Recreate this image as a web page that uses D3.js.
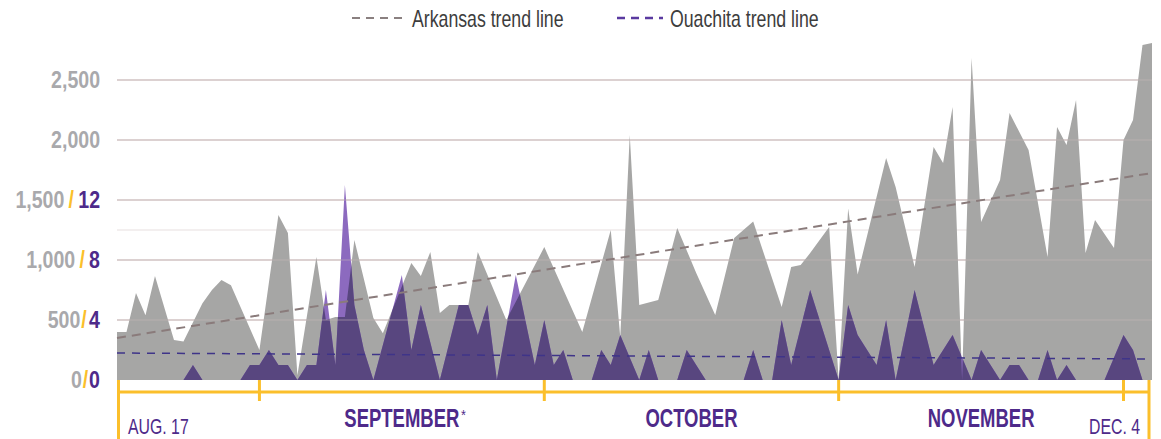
<!DOCTYPE html>
<html>
<head>
<meta charset="utf-8">
<script src="https://cdn.jsdelivr.net/npm/d3@7"></script>
<style>
  body { margin: 0; background: #fff; }
  text { font-family: "Liberation Sans", Arial, sans-serif; }
</style>
</head>
<body>
<div class="chart"></div>
<script>
// Arkansas daily new cases (gray area)
var arkDays = ["08-17","08-18","08-19","08-20","08-21","08-23","08-24","08-26","08-27","08-28","08-29",
  "09-01","09-03","09-04","09-05","09-07","09-08","09-09","09-10","09-11","09-13","09-14","09-17","09-18",
  "09-19","09-20","09-21","09-23","09-24","09-27","10-01","10-05","10-08","10-09","10-10","10-11","10-13",
  "10-15","10-17","10-19","10-21","10-23","10-26","10-27","10-28","10-29","10-31","11-01","11-02","11-03",
  "11-06","11-07","11-09","11-11","11-12","11-13","11-14","11-15","11-16","11-18","11-19","11-21","11-23",
  "11-24","11-25","11-26","11-27","11-28","11-30","12-01","12-02","12-03","12-04"];
var arkCases = [400,400,725,540,867,333,320,640,750,833,790,
  250,1375,1225,40,1025,500,525,525,1167,517,390,975,867,
  1067,558,625,625,1067,500,1108,400,1250,358,2042,625,667,
  1267,892,542,1183,1320,608,942,958,1058,1275,0,1430,880,
  1850,1608,942,1942,1808,2275,0,2683,1317,1667,2225,1917,1025,
  2108,1958,2333,1058,1333,1100,2000,2167,2792,2808];

// Ouachita daily new cases (purple area)
var ouaDays = ["08-17","08-24","08-25","08-26","08-30","08-31","09-01","09-02","09-03","09-04","09-05",
  "09-06","09-07","09-08","09-09","09-10","09-11","09-12","09-13","09-16","09-17","09-18","09-20","09-22",
  "09-23","09-24","09-25","09-26","09-28","09-30","10-01","10-02","10-03","10-04","10-06","10-07","10-08",
  "10-09","10-11","10-12","10-13","10-15","10-16","10-18","10-22","10-23","10-24","10-25","10-26","10-27",
  "10-29","11-01","11-02","11-03","11-05","11-06","11-07","11-09","11-11","11-13","11-15","11-16","11-18",
  "11-19","11-20","11-21","11-22","11-23","11-24","11-25","11-26","11-29","12-01","12-02","12-03","12-04"];
var ouaCases = [0,0,1,0,0,1,1,2,1,1,0,
  1,1,6,1,13,5,2,0,7,2,5,0,5,
  5,3,5,0,7,1,4,1,2,0,0,2,1,
  3,0,2,0,0,2,0,0,2,0,0,4,1,
  6,0,5,3,1,4,0,6,1,3,0,2,0,
  1,1,0,0,2,0,1,0,0,3,2,0,0];

// trend lines, start and end values
var trendDays = ["08-17", "12-04"];
var arkTrend = [350, 1725];
var ouaTrend = [1.8, 1.4];

// axis ticks
var leftTicks = [0, 500, 1000, 1500, 2000, 2500];
var leftLabels = ["0", "500", "1,000", "1,500", "2,000", "2,500"];
var rightLabels = ["0", "4", "8", "12", "", ""];
var monthStarts = ["09-01", "10-01", "11-01", "12-01"];
var monthNames = ["SEPTEMBER", "OCTOBER", "NOVEMBER"];

var parseDay = d3.timeParse("%Y-%m-%d");
function day(s) { return parseDay("2020-" + s); }

// squeeze text sideways, the fonts here have no condensed cut
function squeeze(px, py, sx) {
  return "translate(" + px + "," + py + ") scale(" + sx + ",1)";
}

var svgWidth = 1161;
var svgHeight = 439;

var svg = d3.select(".chart")
  .append("svg")
  .attr("width", svgWidth)
  .attr("height", svgHeight);

// scales
var x = d3.scaleTime()
  .domain([day("08-17"), day("12-04")])
  .range([117, 1152]);

var y = d3.scaleLinear()
  .domain([0, 2800])
  .range([380, 44]);

// 1 Ouachita case = 125 on the Arkansas scale
var y2 = d3.scaleLinear()
  .domain([0, 2800 / 125])
  .range([380, 44]);

var arkData = arkDays.map(function(d, i) { return { date: day(d), value: arkCases[i] }; });
var ouaData = ouaDays.map(function(d, i) { return { date: day(d), value: ouaCases[i] }; });

var grayColor = "#a6a6a5";
var purpleDark = "#58467f";
var purpleLight = "#8c6abf";
var labelPurple = "#4e2a8a";
var yellow = "#fbbf2b";

// gridlines
var gridGroup = svg.append("g");
gridGroup.selectAll("line.grid")
  .data(leftTicks.slice(1))
  .enter()
  .append("line")
  .attr("x1", 117)
  .attr("x2", 1152)
  .attr("y1", d => y(d))
  .attr("y2", d => y(d))
  .attr("stroke", "#e3d9d9")
  .attr("stroke-width", 2);
gridGroup.append("line")
  .attr("x1", 117).attr("x2", 1152)
  .attr("y1", y(1250)).attr("y2", y(1250))
  .attr("stroke", "#efeaea")
  .attr("stroke-width", 1.5);

// areas
var arkArea = d3.area()
  .x(d => x(d.date))
  .y0(y(0))
  .y1(d => y(d.value));

var ouaArea = d3.area()
  .x(d => x(d.date))
  .y0(y2(0))
  .y1(d => y2(d.value));

svg.append("defs")
  .append("clipPath")
  .attr("id", "grayClip")
  .append("path")
  .attr("d", arkArea(arkData));

svg.append("path")
  .attr("d", arkArea(arkData))
  .attr("fill", grayColor);

// purple above the gray shows lighter, purple over the gray shows dark
svg.append("path")
  .attr("d", ouaArea(ouaData))
  .attr("fill", purpleLight);

svg.append("path")
  .attr("d", ouaArea(ouaData))
  .attr("fill", purpleDark)
  .attr("clip-path", "url(#grayClip)");

// faint gridlines over the areas
svg.selectAll("line.over")
  .data(leftTicks.slice(1))
  .enter()
  .append("line")
  .attr("x1", 117)
  .attr("x2", 1152)
  .attr("y1", d => y(d))
  .attr("y2", d => y(d))
  .attr("stroke", "#c9baba")
  .attr("stroke-opacity", 0.35)
  .attr("stroke-width", 1.5);

// trend lines
svg.append("line")
  .attr("x1", x(day(trendDays[0])))
  .attr("x2", x(day(trendDays[1])))
  .attr("y1", y(arkTrend[0]))
  .attr("y2", y(arkTrend[1]))
  .attr("stroke", "#8a7b7b")
  .attr("stroke-width", 2)
  .attr("stroke-dasharray", "9,6");

svg.append("line")
  .attr("x1", x(day(trendDays[0])))
  .attr("x2", x(day(trendDays[1])))
  .attr("y1", y2(ouaTrend[0]))
  .attr("y2", y2(ouaTrend[1]))
  .attr("stroke", "#3f3489")
  .attr("stroke-width", 1.5)
  .attr("stroke-dasharray", "8,7");

// y labels, right edge at x=100
var yLabels = svg.append("g");
leftTicks.forEach(function(t, i) {
  var txt = yLabels.append("text")
    .attr("transform", squeeze(100, y(t), 0.85))
    .attr("dy", "0.36em")
    .attr("text-anchor", "end")
    .attr("font-size", 23)
    .attr("font-weight", "bold");
  txt.append("tspan").attr("fill", "#a9a9ac").text(leftLabels[i]);
  if (rightLabels[i] !== "") {
    var wide = t >= 1000;
    txt.append("tspan").attr("fill", yellow).attr("dx", wide ? 5 : 1).text("/");
    txt.append("tspan").attr("fill", labelPurple).attr("dx", wide ? 5 : (t == 0 ? 1 : 3)).text(rightLabels[i]);
  }
});

// yellow time axis
var axisGroup = svg.append("g")
  .attr("stroke", yellow)
  .attr("stroke-width", 3);

axisGroup.append("line")
  .attr("x1", x.range()[0])
  .attr("x2", x.range()[1] - 3)
  .attr("y1", 392)
  .attr("y2", 392);

axisGroup.selectAll("line.tick")
  .data(monthStarts)
  .enter()
  .append("line")
  .attr("x1", d => x(day(d)))
  .attr("x2", d => x(day(d)))
  .attr("y1", 380)
  .attr("y2", 401);

axisGroup.selectAll("line.end")
  .data(["08-17", "12-04"])
  .enter()
  .append("line")
  .attr("x1", (d, i) => x(day(d)) + (i == 0 ? 1.5 : -3))
  .attr("x2", (d, i) => x(day(d)) + (i == 0 ? 1.5 : -3))
  .attr("y1", 380)
  .attr("y2", 439);

// month labels, centred in each month
svg.selectAll("text.month")
  .data(monthNames)
  .enter()
  .append("text")
  .attr("transform", (d, i) => squeeze((x(day(monthStarts[i])) + x(day(monthStarts[i + 1]))) / 2, 427, 0.74))
  .attr("text-anchor", "middle")
  .attr("font-size", 25)
  .attr("font-weight", "bold")
  .attr("fill", labelPurple)
  .text(d => d);

svg.append("text")
  .attr("transform", squeeze(461, 420, 0.9))
  .attr("font-size", 14)
  .attr("fill", labelPurple)
  .text("*");

svg.append("text")
  .attr("transform", squeeze(128, 434, 0.72))
  .attr("font-size", 22)
  .attr("fill", labelPurple)
  .text("AUG. 17");

svg.append("text")
  .attr("transform", squeeze(1140, 434, 0.72))
  .attr("text-anchor", "end")
  .attr("font-size", 22)
  .attr("fill", labelPurple)
  .text("DEC. 4");

// legend
var legend = svg.append("g");
legend.append("line")
  .attr("x1", 352).attr("x2", 406)
  .attr("y1", 18).attr("y2", 18)
  .attr("stroke", "#8a8080")
  .attr("stroke-width", 2)
  .attr("stroke-dasharray", "8,6");
legend.append("text")
  .attr("transform", squeeze(412, 27, 0.77))
  .attr("font-size", 23)
  .attr("fill", "#3d3d3d")
  .text("Arkansas trend line");
legend.append("line")
  .attr("x1", 617).attr("x2", 663)
  .attr("y1", 18).attr("y2", 18)
  .attr("stroke", "#5a3aa0")
  .attr("stroke-width", 2.5)
  .attr("stroke-dasharray", "8,6");
legend.append("text")
  .attr("transform", squeeze(670, 27, 0.77))
  .attr("font-size", 23)
  .attr("fill", "#3d3d3d")
  .text("Ouachita trend line");
</script>
</body>
</html>
